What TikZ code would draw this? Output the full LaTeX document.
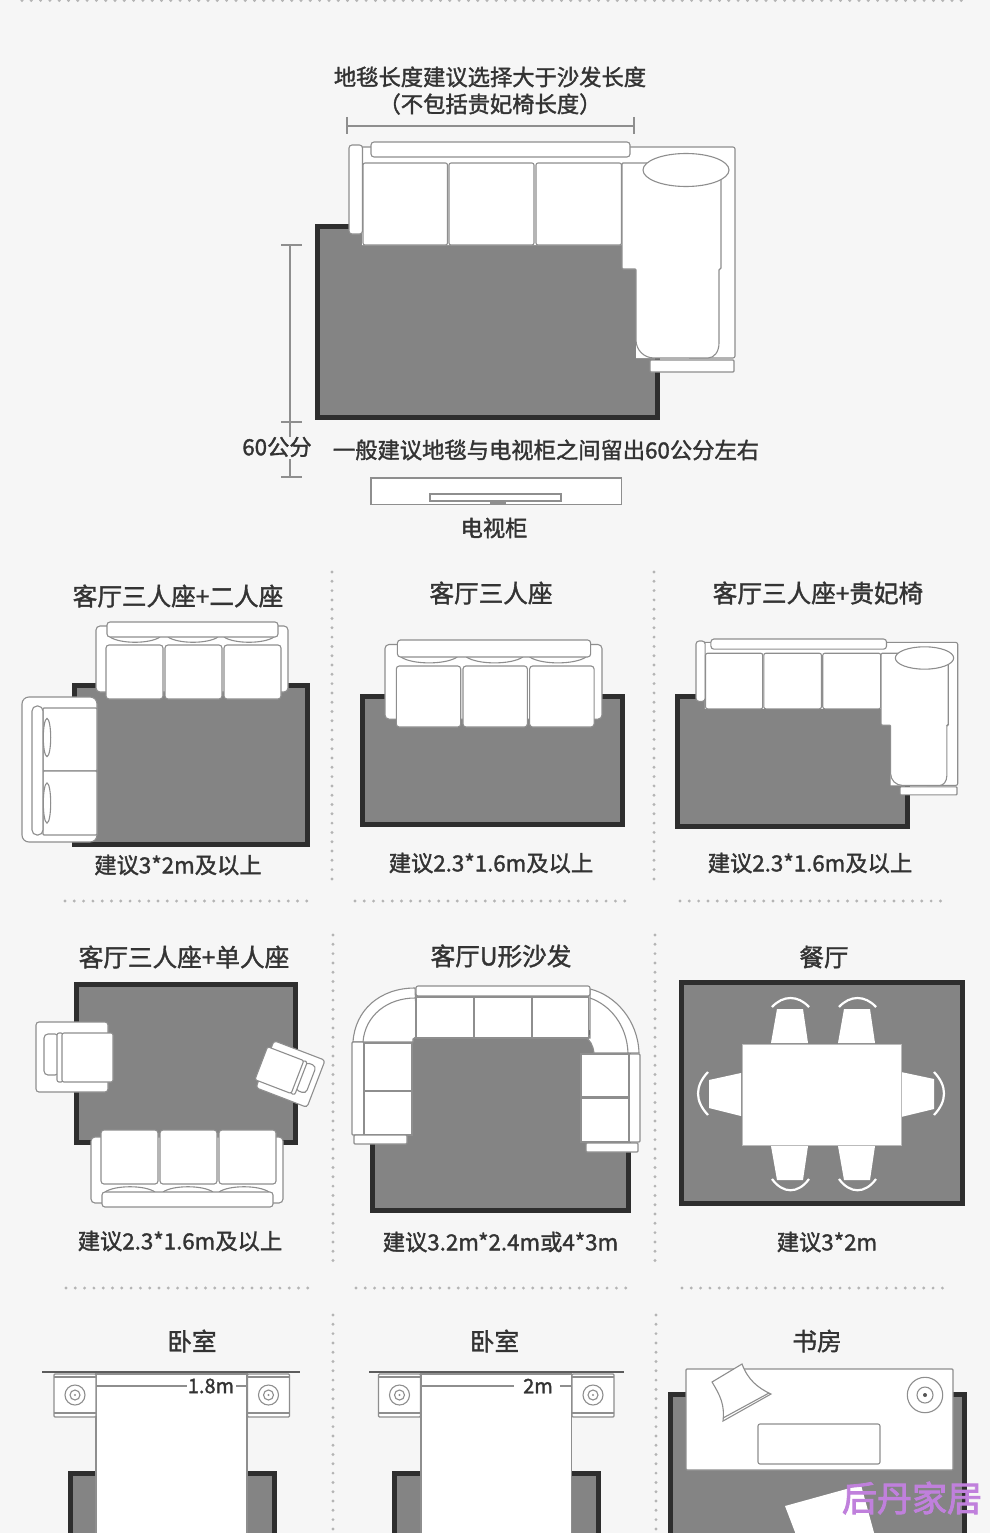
\documentclass[tikz,border=0pt]{standalone}
\usepackage{fontspec}
\setmainfont{Noto Sans CJK SC}
\newfontfamily\markfont[FakeBold=2.5]{Noto Sans CJK SC}
\newfontfamily\headfont[FakeBold=1.5]{Noto Sans CJK SC}
\definecolor{PageGrey}{HTML}{F6F6F6}
\definecolor{RugGrey}{HTML}{848484}
\definecolor{RugDark}{HTML}{2E2E2E}
\definecolor{LineGrey}{HTML}{8E8E8E}
\definecolor{DotGrey}{HTML}{B4B4B4}
\definecolor{InkGrey}{HTML}{333333}
\definecolor{MarkPurple}{HTML}{C080DC}
\tikzset{
 rugbox/.style={draw=RugDark, line width=5pt, fill=RugGrey},
 sofaline/.style={draw=LineGrey, line width=1.1pt, fill=white},
 thinline/.style={draw=LineGrey, line width=1.1pt},
 dotline/.style={draw=DotGrey, line width=3.2pt, line cap=round, dash pattern=on 0pt off 9.3pt},
 chairarc/.style={draw=white, line width=2.2pt},
 titletext/.style={font=\headfont\fontsize{24.6}{28}\selectfont, text=InkGrey, inner sep=0pt},
 captext/.style={font=\headfont\fontsize{22.3}{26}\selectfont, text=InkGrey, inner sep=0pt},
 sizetext/.style={font=\headfont\fontsize{20}{24}\selectfont, text=InkGrey, inner sep=0pt}
}
\newcommand{\rug}[4]{\draw[rugbox] (#1+2.5,#2+2.5) rectangle (#3-2.5,#4-2.5);}
\newcommand{\threeseat}{%
 \draw[sofaline, rounded corners=4pt] (0,4) rectangle (192,70);
 \foreach \px in {14,72,128} \draw[sofaline] (\px,15) .. controls (\px+10,22) and (\px+40,22) .. (\px+50,15);
 \draw[sofaline, rounded corners=3pt] (11,0) rectangle (182,15);
 \foreach \qx in {10,69,128} \draw[sofaline, rounded corners=3pt] (\qx,23) rectangle ++(57,54);
}
\newcommand{\chaisesofa}{%
 \fill[white] (13,5) -- (386,5) -- (386,216) -- (287,216) -- (287,103) -- (13,103) -- cycle;
 \draw[thinline, rounded corners=2pt] (13,5) -- (386,5) -- (386,216) -- (340,216);
 \draw[sofaline, rounded corners=3pt] (0,3) rectangle (13.5,92);
 \draw[sofaline, rounded corners=3pt] (22,0) rectangle (281,15);
 \foreach \qx/\qw in {14/84.5,100/85,187/85.5} \draw[sofaline, rounded corners=2pt] (\qx,21) rectangle ++(\qw,82);
 \draw[sofaline, rounded corners=1pt] (273,21) -- (372,21) -- (372,127) -- (370,127) -- (370,200) .. controls (370,210) and (365,216) .. (358,216) -- (306,216) .. controls (295,216) and (287,208) .. (287,197) -- (287,127) -- (273,127) -- cycle;
 \draw[sofaline] (337,28) ellipse (43 and 16.5);
 \draw[sofaline, rounded corners=1pt] (301,218) rectangle (385,230);
}
\newcommand{\armchair}{%
 \draw[sofaline, rounded corners=3pt] (-36,-35) rectangle (36,35);
 \draw[sofaline, rounded corners=4pt] (-28,-23) rectangle (-13,18);
 \draw[sofaline, rounded corners=2pt] (-15,-24) rectangle (-9,25);
 \draw[sofaline, rounded corners=2pt] (-10,-24) rectangle (41,25);
}
\newcommand{\bedside}[1]{%
 \draw[sofaline, rounded corners=1pt] (#1,1374) rectangle ++(42,43);
 \draw[thinline] (#1,1377) -- ++(42,0);
 \draw[thinline] (#1,1413) -- ++(42,0);
 \draw[thinline] (#1+21,1395) circle (10);
 \draw[thinline] (#1+21,1395) circle (5);
 \fill[LineGrey] (#1+21,1395) circle (1.2);
}

\begin{document}
\begin{tikzpicture}[x=1pt, y=-1pt]

 \useasboundingbox (0,0) rectangle (990,1533);
 \clip (0,0) rectangle (990,1533);
 \fill[PageGrey] (0,0) rectangle (990,1533);

 % dotted rules
 \draw[dotline] (22,0.5) -- (968,0.5);
 \foreach \vx/\vtop/\vend in {332/572/880, 654/572/880, 333/935/1262, 655/935/1262, 333/1315/1533, 656/1315/1533}
  \draw[dotline] (\vx,\vtop) -- (\vx,\vend);
 \foreach \hleft/\hright/\hy in {65/310/901, 355/628/901, 680/944/901, 66/310/1288, 356/628/1288, 682/945/1288}
  \draw[dotline] (\hleft,\hy) -- (\hright,\hy);

 % main layout
 \node[captext] (lengtha) at (490,77) {地毯长度建议选择大于沙发长度};
 \node[captext] (lengthb) at (490,104) {（不包括贵妃椅长度）};
 \draw[thinline] (347,126) -- (634,126);
 \draw[thinline] (347,117) -- (347,134);
 \draw[thinline] (634,117) -- (634,134);
 \rug{315}{224}{660}{420}
 \begin{scope}[shift={(349,142)}]
  \chaisesofa
 \end{scope}
 \draw[thinline] (290,245) -- (290,437);
 \draw[thinline] (290,459) -- (290,477);
 \foreach \ty in {245,422,477} \draw[thinline] (281,\ty) -- (302,\ty);
 \node[captext] (gap) at (277,447) {60公分};
 \node[captext] (gapnote) at (546,450) {一般建议地毯与电视柜之间留出60公分左右};
 \draw[sofaline] (371,478) rectangle (621.5,504.5);
 \draw[sofaline] (430,494) rectangle (561,501);
 \fill[LineGrey] (490,501) rectangle (505.5,504);
 \node[captext] (tvstand) at (494,528) {电视柜};

 % row one
 \node[titletext] (titlea) at (178,596) {客厅三人座+二人座};
 \rug{72}{683}{310}{847}
 \begin{scope}[shift={(96,622)}]
  \threeseat
 \end{scope}
 \draw[sofaline, rounded corners=7pt] (22,697) rectangle (97,842);
 \draw[sofaline, rounded corners=1pt] (43,708) rectangle (97,771);
 \draw[sofaline, rounded corners=1pt] (43,771) rectangle (97,835);
 \draw[sofaline, rounded corners=5pt] (32,706) rectangle (43,835);
 \draw[sofaline] (47,737.5) ellipse (3.7 and 19);
 \draw[sofaline] (47,803) ellipse (3.7 and 20);
 \node[captext] (capa) at (178,865) {建议3*2m及以上};

 \node[titletext] (titleb) at (491,593) {客厅三人座};
 \rug{360}{694}{625}{827}
 \begin{scope}[shift={(385,640)}, scale=1.13]
  \threeseat
 \end{scope}
 \node[captext] (capb) at (491,863) {建议2.3*1.6m及以上};

 \node[titletext] (titlec) at (818,593) {客厅三人座+贵妃椅};
 \rug{675}{694}{910}{829}
 \begin{scope}[shift={(696,639)}, scale=0.678]
  \chaisesofa
 \end{scope}
 \node[captext] (capc) at (810,863) {建议2.3*1.6m及以上};

 % row two
 \node[titletext] (titled) at (184,957) {客厅三人座+单人座};
 \rug{74}{982}{298}{1145}
 \begin{scope}[shift={(72,1057)}]
  \armchair
 \end{scope}
 \begin{scope}[shift={(290.5,1074)}, rotate=-21, xscale=-0.76, yscale=0.72]
  \armchair
 \end{scope}
 \begin{scope}[shift={(91,1207)}, yscale=-1]
  \threeseat
 \end{scope}
 \node[captext] (capd) at (180,1241) {建议2.3*1.6m及以上};

 \node[titletext] (titlee) at (501,956) {客厅U形沙发};
 \rug{370}{1030}{631}{1213}
 \draw[sofaline] (415,988) .. controls (380,988) and (355,1010) .. (353,1042) -- (413,1042) -- (413,1039) -- (417,1036) -- cycle;
 \draw[thinline] (415,998) .. controls (388,998) and (365,1015) .. (363,1042);
 \draw[sofaline] (590,989) .. controls (615,995) and (638,1020) .. (639,1053) -- (594,1053) .. controls (593,1045) and (590,1040) .. (586,1038) -- (590,1038) -- cycle;
 \draw[thinline] (590,998) .. controls (610,1005) and (627,1025) .. (628,1053);
 \draw[sofaline, rounded corners=2pt] (416,986) rectangle (590,996);
 \foreach \qx/\qw in {416/58, 474.5/57.5, 532.5/56} \draw[sofaline] (\qx,997) rectangle ++(\qw,41);
 \draw[sofaline, rounded corners=1pt] (352,1042) rectangle (364,1135);
 \draw[sofaline] (364,1043) rectangle (412,1091);
 \draw[sofaline] (364,1091) rectangle (412,1135);
 \draw[sofaline, rounded corners=1pt] (354,1135) rectangle (407,1144);
 \draw[sofaline, rounded corners=1pt] (628,1054) rectangle (640,1142);
 \draw[sofaline] (581,1054) rectangle (629,1097);
 \draw[sofaline] (581,1098) rectangle (629,1142);
 \draw[sofaline, rounded corners=1pt] (586,1143) rectangle (638,1152);
 \node[captext] (cape) at (500.5,1242) {建议3.2m*2.4m或4*3m};

 \node[titletext] (titlef) at (824,957) {餐厅};
 \rug{679}{980}{965}{1206}
 \foreach \sx in {771,838} {
  \fill[white] (\sx,1043) -- (\sx+6,1009) -- (\sx+32,1009) -- (\sx+37,1043) -- cycle;
  \fill[white] (\sx,1146) -- (\sx+6,1180) -- (\sx+32,1180) -- (\sx+37,1146) -- cycle;
  \draw[chairarc] (\sx+1,1007) .. controls (\sx+12,995) and (\sx+27,995) .. (\sx+38,1007);
  \draw[chairarc] (\sx+1,1179) .. controls (\sx+12,1194) and (\sx+27,1194) .. (\sx+38,1179);
 }
 \fill[white] (741,1073) -- (709,1080) -- (709,1108) -- (741,1116) -- cycle;
 \fill[white] (901,1072) -- (934,1079) -- (934,1109) -- (901,1117) -- cycle;
 \draw[chairarc] (708,1072) .. controls (694.7,1086) and (694.7,1101) .. (708,1115);
 \draw[chairarc] (934,1072) .. controls (947.3,1086) and (947.3,1101) .. (934,1115);
 \draw[draw=LineGrey!60, line width=1pt, fill=white] (742,1044) rectangle (901,1145);
 \node[captext] (capf) at (827,1242) {建议3*2m};

 % row three
 \node[titletext] (titleg) at (192,1341) {卧室};
 \rug{68}{1471}{277}{1550}
 \draw[sofaline] (96,1374) rectangle (247,1545);
 \draw[draw=InkGrey!80, line width=1.6pt] (42,1372) -- (300,1372);
 \bedside{54}
 \bedside{247.5}
 \draw[thinline] (96,1386) -- (187,1386);
 \draw[thinline] (236,1386) -- (247,1386);
 \node[sizetext] (sizeg) at (211,1386) {1.8m};

 \node[titletext] (titleh) at (494.5,1341) {卧室};
 \rug{392}{1471}{601}{1550}
 \draw[sofaline] (421,1374) rectangle (571.5,1545);
 \draw[draw=InkGrey!80, line width=1.6pt] (369,1372) -- (624,1372);
 \bedside{378.5}
 \bedside{572}
 \draw[thinline] (421,1386) -- (513.5,1386);
 \draw[thinline] (560,1386) -- (571.5,1386);
 \node[sizetext] (sizeh) at (538,1386) {2m};

 \node[titletext] (titlei) at (817,1341) {书房};
 \rug{668}{1392}{967}{1550}
 \draw[sofaline, rounded corners=1pt] (686,1369) rectangle (953,1470);
 \draw[sofaline, rounded corners=2pt] (758,1424) rectangle (880,1464);
 \draw[thinline] (925,1395) circle (17.7);
 \draw[thinline] (925,1395) circle (8);
 \fill[LineGrey!60!black] (925,1395) circle (2);
 \draw[sofaline] (712,1382) -- (742,1364) .. controls (748,1380) and (758,1388) .. (771,1394) -- (723,1421) .. controls (725,1405) and (720,1395) .. (712,1382) -- cycle;
 \draw[thinline] (723,1418) -- (769,1393);
 \fill[white] (785,1506) -- (861,1485) -- (876,1540) -- (798,1540) -- cycle;
 \node[font=\markfont\fontsize{35}{40}\selectfont, text=MarkPurple, inner sep=0pt] (watermark) at (912,1498) {后丹家居};

\end{tikzpicture}
\end{document}
